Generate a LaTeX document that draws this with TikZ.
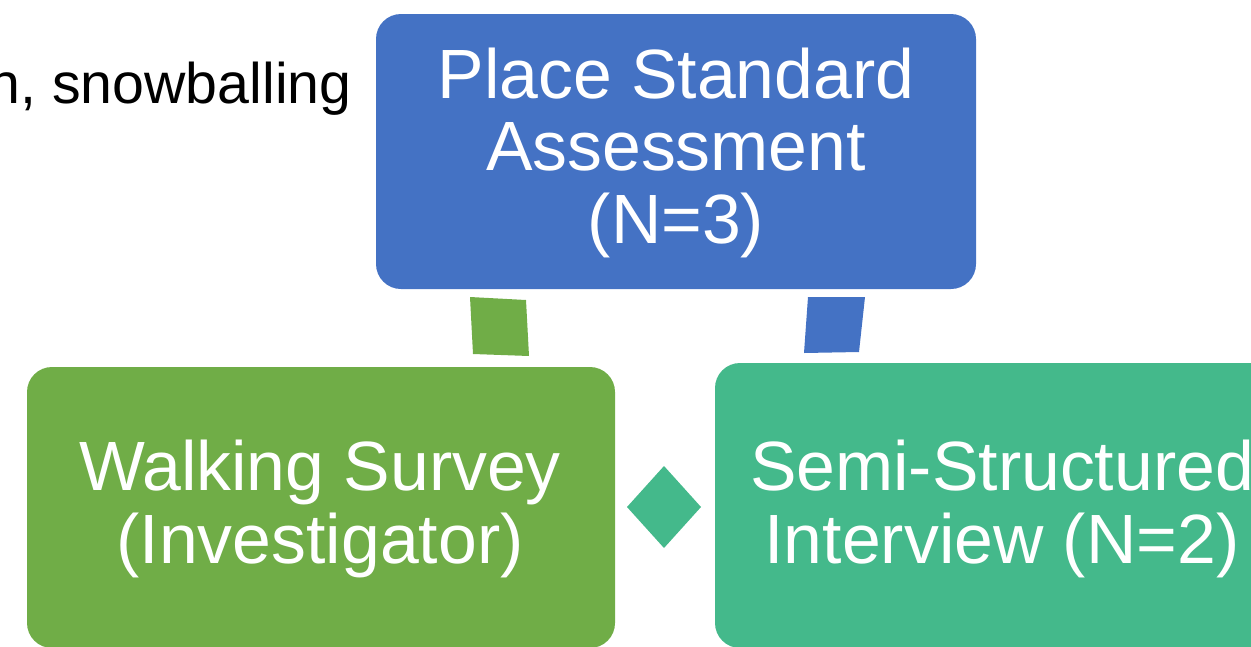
\documentclass[tikz,border=0pt]{standalone}
\usepackage{fontspec}
\setmainfont{Liberation Sans}
\definecolor{cblue}{RGB}{68,114,196}
\definecolor{cgreen}{RGB}{112,173,71}
\definecolor{cteal}{RGB}{68,185,139}
\begin{document}
\begin{tikzpicture}[x=0.02cm,y=-0.02cm,
  boxshape/.style={rounded corners=0.5cm,inner sep=0pt,outer sep=0pt},
  boxtext/.style={text=white,align=center,inner sep=0pt,anchor=base,
    font=\fontsize{39.7}{41.1}\selectfont},
  plaintext/.style={text=black,inner sep=0pt,anchor=base east,
    font=\fontsize{32.6}{36}\selectfont}]
\useasboundingbox (0,0) rectangle (1251,646);
\clip (0,0) rectangle (1251,646);
% boxes
\fill[cblue,boxshape] (376,14) rectangle (976,289);
\fill[cgreen,boxshape] (27,367) rectangle (615,648);
\fill[cteal,boxshape] (715,363) rectangle (1290,648);
% texts
\node[plaintext] (snow) at (352,103) {n, snowballing};
\node[boxtext] (place) at (676,243) {Place Standard\\Assessment\\(N=3)};
\node[boxtext] (walk) at (320,563) {Walking Survey\\(Investigator)};
\node[boxtext] (semi) at (1002,563) {Semi-Structured\\Interview (N=2)};
% connector shapes
\fill[cgreen] (470,297) -- (526,300) -- (529,356) -- (473,354) -- cycle;
\fill[cblue] (808,297) -- (865,297) -- (859,352) -- (804,353) -- cycle;
\fill[cteal] (664,466) -- (701,507) -- (664,548) -- (627,507) -- cycle;
\end{tikzpicture}
\end{document}
